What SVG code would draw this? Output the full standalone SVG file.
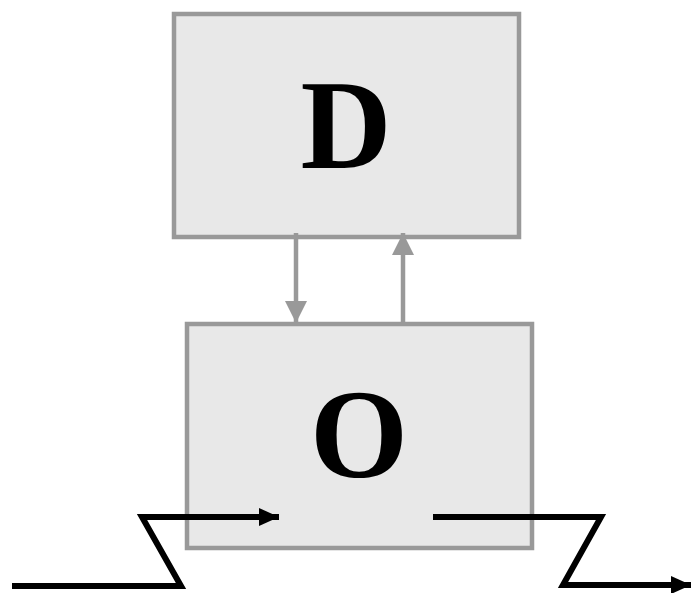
<svg xmlns="http://www.w3.org/2000/svg" width="691" height="593" viewBox="0 0 691 593">
<defs>
<style>
.box{fill:#e8e8e8;stroke:#999999;stroke-width:4.5}
.lbl{font-weight:bold;font-size:126px;fill:#000;text-anchor:middle}
.g{stroke:#999999;stroke-width:4.5;fill:none}
.k{stroke:#000;stroke-width:6;fill:none;stroke-linejoin:miter}
</style>
<marker id="ga" viewBox="0 0 22 22" refX="22" refY="11" markerWidth="22" markerHeight="22" markerUnits="userSpaceOnUse" orient="auto"><path d="M0,0 L22,11 L0,22 Z" fill="#999999"/></marker>
<marker id="ka" viewBox="0 0 20 18" refX="20" refY="9" markerWidth="20" markerHeight="18" markerUnits="userSpaceOnUse" orient="auto"><path d="M0,0 L20,9 L0,18 Z" fill="#000"/></marker>
</defs>
<g id="node-D">
<rect class="box" x="174" y="14" width="345" height="223"/>
<text class="lbl" font-family="'Liberation Serif', serif" x="346" y="168">D</text>
</g>
<g id="node-O">
<rect class="box" x="187" y="324" width="345" height="224"/>
<text class="lbl" font-family="'Liberation Serif', serif" x="359" y="477">O</text>
</g>
<g id="connectors">
<line class="g" x1="296" y1="233" x2="296" y2="323" marker-end="url(#ga)"/>
<line class="g" x1="403" y1="324" x2="403" y2="233" marker-end="url(#ga)"/>
<polyline class="k" points="12,586 181,586 142,517 279,517" marker-end="url(#ka)"/>
<polyline class="k" points="433,517 601,517 563,585 691,585" marker-end="url(#ka)"/>
</g>
</svg>
